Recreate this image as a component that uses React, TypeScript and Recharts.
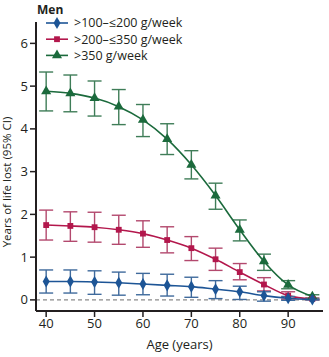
import React from "react";
import {
  ComposedChart,
  Line,
  XAxis,
  YAxis,
  ErrorBar,
  ReferenceLine,
  Symbols,
} from "recharts";

const ages = [40, 45, 50, 55, 60, 65, 70, 75, 80, 85, 90, 95];

const blue = [0.43, 0.43, 0.42, 0.4, 0.37, 0.34, 0.31, 0.25, 0.19, 0.1, 0.04, 0.01];
const blueLo = [0.16, 0.16, 0.13, 0.11, 0.12, 0.09, 0.06, 0.03, 0.01, -0.03, -0.01, 0.0];
const blueHi = [0.7, 0.7, 0.68, 0.65, 0.62, 0.6, 0.53, 0.45, 0.32, 0.19, 0.08, 0.02];

const red = [1.75, 1.73, 1.7, 1.64, 1.55, 1.4, 1.21, 0.95, 0.65, 0.36, 0.1, 0.02];
const redLo = [1.4, 1.37, 1.35, 1.3, 1.23, 1.1, 0.92, 0.69, 0.47, 0.21, 0.02, 0.0];
const redHi = [2.1, 2.06, 2.05, 1.98, 1.85, 1.71, 1.48, 1.21, 0.85, 0.52, 0.19, 0.04];

const green = [4.88, 4.83, 4.72, 4.52, 4.21, 3.76, 3.16, 2.44, 1.64, 0.9, 0.35, 0.08];
const greenLo = [4.42, 4.4, 4.3, 4.1, 3.82, 3.4, 2.83, 2.12, 1.38, 0.69, 0.26, 0.04];
const greenHi = [5.33, 5.26, 5.12, 4.92, 4.57, 4.12, 3.49, 2.73, 1.87, 1.07, 0.45, 0.12];

const xTicks = [40, 50, 60, 70, 80, 90];
const yTicks = [0, 1, 2, 3, 4, 5, 6];

const seriesNames = [">100–≤200 g/week", ">200–≤350 g/week", ">350 g/week"];
const colors = ["#1d5596", "#b3174c", "#1b6a3c"];
const barColors = ["#3f6a9c", "#b3496e", "#3f7d58"];
const shapes: ("diamond" | "square" | "triangle")[] = ["diamond", "square", "triangle"];
const sizes = [42, 34, 44];

const data = ages.map((a, i) => ({
  age: a,
  blue: blue[i],
  blueErr: [blue[i] - blueLo[i], blueHi[i] - blue[i]],
  red: red[i],
  redErr: [red[i] - redLo[i], redHi[i] - red[i]],
  green: green[i],
  greenErr: [green[i] - greenLo[i], greenHi[i] - green[i]],
}));

const FONT = "'Open Sans', 'Liberation Sans', sans-serif";
const TEXT = "#231f20";

const makeDot = (idx: number) => (props: any) => {
  const { cx, cy, index } = props;
  if (cx == null || cy == null) return <g key={`d${idx}-${index}`} />;
  return (
    <Symbols
      key={`d${idx}-${index}`}
      cx={cx}
      cy={cy}
      type={shapes[idx]}
      size={sizes[idx]}
      fill={colors[idx]}
      stroke="none"
    />
  );
};

const Overlay = () => (
  <svg
    width={329}
    height={357}
    style={{ position: "absolute", left: 0, top: 0, overflow: "visible", pointerEvents: "none" }}
  >
    <text x={37} y={14} fontFamily={FONT} fontSize={12} fontWeight={700} fill={TEXT}>
      Men
    </text>
    <text
      transform="translate(7,182) rotate(-90)"
      textAnchor="middle"
      dy="0.35em"
      fontFamily={FONT}
      fontSize={11.5}
      fill={TEXT}
    >
      Years of life lost (95% CI)
    </text>
    {seriesNames.map((n, i) => {
      const y = 23 + i * 16.2;
      return (
        <g key={n}>
          <line x1={46} x2={68} y1={y} y2={y} stroke={colors[i]} strokeWidth={1.6} />
          <Symbols cx={57} cy={y} type={shapes[i]} size={sizes[i]} fill={colors[i]} />
          <text
            x={74}
            y={y}
            dy="0.35em"
            fontFamily={FONT}
            fontSize={12.5}
            fill={TEXT}
          >
            {n}
          </text>
        </g>
      );
    })}
  </svg>
);

export default function App() {
  const keys = ["blue", "red", "green"];
  return (
    <div style={{ position: "absolute", left: 0, top: 0, width: 329, height: 357, background: "#fff" }}>
      <ComposedChart
        width={329}
        height={357}
        data={data}
        margin={{ top: 22, right: 6, bottom: 0, left: 8 }}
      >
        <XAxis
          dataKey="age"
          type="number"
          domain={[37.9, 97.2]}
          allowDataOverflow
          ticks={xTicks}
          tickLine={{ stroke: TEXT, strokeWidth: 1.5 }}
          axisLine={{ stroke: TEXT, strokeWidth: 2 }}
          tickSize={6}
          height={46}
          tick={{ fontFamily: FONT, fontSize: 13, fill: TEXT }}
          label={{
            value: "Age (years)",
            position: "insideBottom",
            offset: 8,
            style: { fontFamily: FONT, fontSize: 13, fill: TEXT },
          }}
        />
        <YAxis
          type="number"
          domain={[-0.26, 6.5]}
          allowDataOverflow
          ticks={yTicks}
          width={28}
          tickLine={{ stroke: TEXT, strokeWidth: 1.5 }}
          axisLine={{ stroke: TEXT, strokeWidth: 2 }}
          tickSize={6}
          tick={{ fontFamily: FONT, fontSize: 13, fill: TEXT }}
        />
        <ReferenceLine y={0} stroke="#8a8a8a" strokeDasharray="4 3" strokeWidth={1.3} />
        {[2, 1, 0].map((i) => (
          <Line
            key={keys[i]}
            dataKey={keys[i]}
            type="monotone"
            stroke={colors[i]}
            strokeWidth={1.6}
            dot={makeDot(i)}
            activeDot={false}
            isAnimationActive={false}
          >
            <ErrorBar
              dataKey={`${keys[i]}Err`}
              direction="y"
              width={7}
              stroke={barColors[i]}
              strokeWidth={1.4}
              isAnimationActive={false}
            />
          </Line>
        ))}
      </ComposedChart>
      <Overlay />
    </div>
  );
}
